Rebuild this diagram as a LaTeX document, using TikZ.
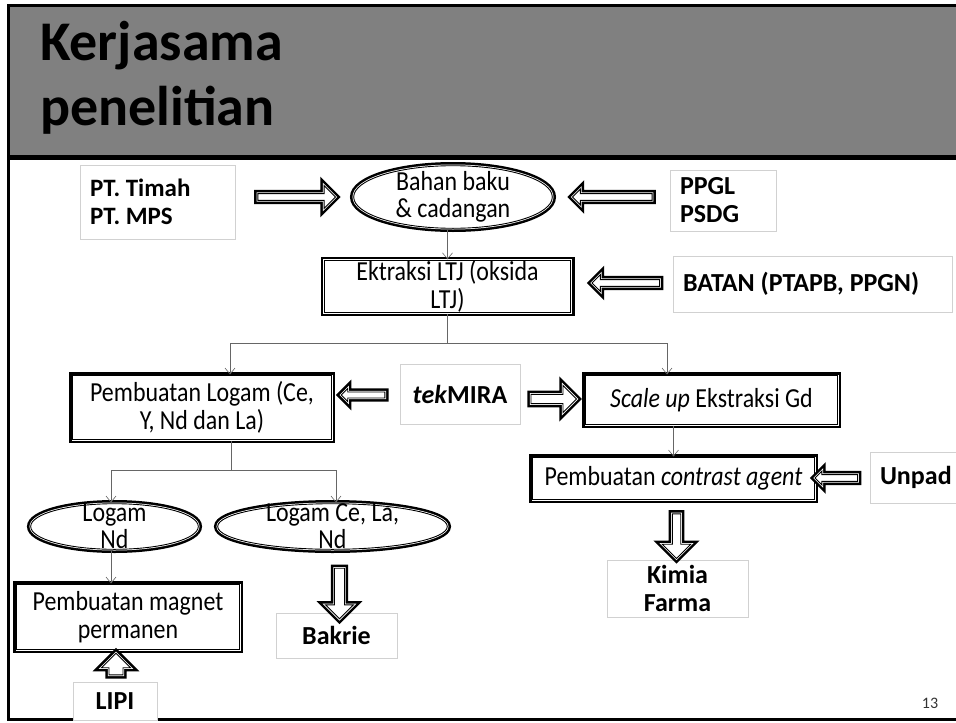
\documentclass[tikz,border=0pt]{standalone}
\usepackage{fontspec}
\setmainfont{Carlito}
\newfontfamily\tallfont{Carlito}[FakeStretch=0.87]
\frenchspacing
\usetikzlibrary{shapes.geometric,shapes.arrows,arrows.meta}
\begin{document}
\begin{tikzpicture}[x=1pt,y=-1pt,
  dbl/.style={fill=white, draw=white, line width=2.4pt,
    preaction={draw=black, line width=7.4pt},
    postaction={draw=black, line width=0.9pt}},
  proc/.style={dbl, rectangle, inner sep=0pt, align=center,
    font=\tallfont\fontsize{27.5}{28}\selectfont},
  oval/.style={dbl, ellipse, inner sep=0pt},
  otxt/.style={inner sep=0pt, align=center, font=\tallfont\fontsize{27.5}{27}\selectfont},
  lbl/.style={draw=black!18, line width=1pt, fill=white, rectangle,
    inner xsep=10pt, inner ysep=0pt, align=flush left,
    font=\bfseries\fontsize{26}{28}\selectfont},
  blk/.style n args={3}{dbl, single arrow, inner xsep=0pt, inner ysep=#2,
    minimum height=#1, single arrow head extend=#3},
  conn/.style={draw=black!60, line width=0.8pt,
    -{Straight Barb[length=6pt,width=10pt,line width=0.6pt]}},
  plain/.style={draw=black!60, line width=0.8pt}
]
\useasboundingbox (0,0) rectangle (956,723);
% frame and title band
\fill[black!50] (9,7) rectangle (956,155);
\fill[black] (8,155) rectangle (956,160);
\draw[line width=3pt] (956,5.5) -- (8,5.5) -- (8,719.5) -- (956,719.5);
\node[anchor=base west, inner sep=0pt, font=\bfseries\fontsize{56}{60}\selectfont] (t1) at (40,60) {Kerjasama};
\node[anchor=base west, inner sep=0pt, font=\bfseries\fontsize{56}{60}\selectfont] (t2) at (40,125) {penelitian};

% label boxes
\node[lbl, minimum width=155pt, minimum height=74pt, text width=135pt, font=\bfseries\fontsize{25}{28}\selectfont] (pt) at (157.5,202) {PT. Timah\\PT. MPS};
\node[lbl, minimum width=106pt, minimum height=61pt, text width=86pt] (ppgl) at (723,200.5) {PPGL\\PSDG};
\node[lbl, minimum width=279pt, minimum height=56pt, text width=259pt] (batan) at (812.5,284) {BATAN (PTAPB, PPGN)};
\node[lbl, minimum width=120pt, minimum height=60pt, text width=100pt, align=center] (tek) at (460,394) {\textit{tek}MIRA};
\node[lbl, minimum width=86pt, minimum height=51pt, text width=66pt] (unpad) at (913,477.5) {Unpad};
\node[lbl, minimum width=141pt, minimum height=57pt, text width=121pt, align=center] (kimia) at (677.5,588.5) {Kimia\\Farma};
\node[lbl, minimum width=121pt, minimum height=45pt, text width=101pt, align=center] (bakrie) at (336.5,635.5) {Bakrie};
\node[lbl, minimum width=84pt, minimum height=38pt, text width=64pt, align=center] (lipi) at (115,701) {LIPI};

% process boxes
\node[proc, minimum width=246.6pt, minimum height=49.6pt] (ekst) at (447.5,286.5) {Ektraksi LTJ (oksida\\LTJ)};
\node[proc, minimum width=258.6pt, minimum height=63.6pt] (logam) at (202,407.5) {Pembuatan Logam (Ce,\\Y, Nd dan La)};
\node[proc, minimum width=251.6pt, minimum height=48.6pt] (scale) at (711.5,400) {\textit{Scale up} Ekstraksi Gd};
\node[proc, minimum width=281.6pt, minimum height=41.6pt] (contr) at (673.5,478.5) {Pembuatan \textit{contrast agent}};
\node[proc, minimum width=222.6pt, minimum height=64.6pt] (mag) at (128,617) {Pembuatan magnet\\permanen};

% ellipses
\node[oval, minimum width=198.6pt, minimum height=62.6pt] (bahan) at (453,197) {};
\node[otxt] (bahant) at (bahan.center) {Bahan baku\\\& cadangan};
\node[oval, minimum width=167.6pt, minimum height=45.6pt] (nd) at (114.5,526.5) {};
\node[otxt] (ndt) at (nd.center) {Logam\\Nd};
\node[oval, minimum width=229.6pt, minimum height=45.6pt] (ce) at (332.5,526.5) {};
\node[otxt] (cet) at (ce.center) {Logam Ce, La,\\Nd};

% block arrows
\node[blk={77.6pt}{2.2pt}{8pt}] (a1) at (295,197) {};
\node[blk={79.6pt}{2.2pt}{4.5pt}, rotate=180] (a2) at (614,197) {};
\node[blk={67.6pt}{2.2pt}{5pt}, rotate=180] (a3) at (627.5,283) {};
\node[blk={43.6pt}{1.8pt}{3.5pt}, rotate=180] (a4) at (364.5,395) {};
\node[blk={45.6pt}{3.4pt}{9pt}] (a5) at (551.5,399) {};
\node[blk={42.6pt}{2.2pt}{3.5pt}, rotate=180] (a6) at (838,478) {};
\node[blk={44.6pt}{3pt}{10pt}, rotate=-90] (a7) at (676.5,534) {};
\node[blk={50.6pt}{3.8pt}{9pt}, rotate=-90] (a8) at (339.5,591) {};
\node[blk={21.6pt}{5.8pt}{7.5pt}, rotate=90] (a9) at (116,667.5) {};

% connectors
\coordinate (jl) at (230,343);
\coordinate (jr) at (667,343);
\coordinate (kc) at (231,470);
\coordinate (kl) at (111,470);
\coordinate (kr) at (336,470);
\draw[conn] (ekst.north |- bahan.south) -- (ekst.north);
\draw[plain] (ekst.south) -- (ekst.south |- jl);
\draw[plain] (jl) -- (jr);
\draw[conn] (jl) -- (jl |- logam.north);
\draw[conn] (jr) -- (jr |- scale.north);
\draw[conn] (contr.north |- scale.south) -- (contr.north);
\draw[plain] (kc |- logam.south) -- (kc);
\draw[plain] (kl) -- (kr);
\draw[conn] (kl) -- (kl |- nd.north);
\draw[conn] (kr) -- (kr |- ce.north);
\draw[conn] (kl |- nd.south) -- (kl |- mag.north);

\node[inner sep=0pt, font=\fontsize{16}{16}\selectfont, text=black!80] (pg) at (930,703) {13};
\end{tikzpicture}
\end{document}
